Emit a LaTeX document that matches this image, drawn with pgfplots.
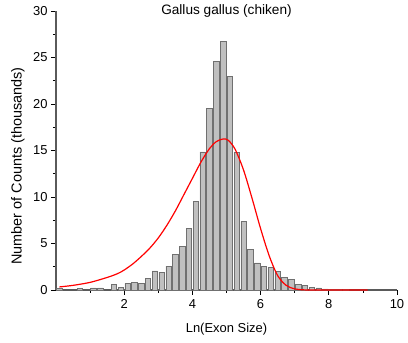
\documentclass[border=0pt]{standalone}
\usepackage{pgfplots}
\pgfplotsset{compat=1.18}
\usepackage{fontspec}
\setmainfont{Liberation Sans}
\definecolor{barfill}{RGB}{192,192,192}
\definecolor{baredge}{RGB}{112,112,112}
\definecolor{axisgray}{RGB}{90,90,90}
\begin{document}
\begin{tikzpicture}
\path[use as bounding box] (-56bp,-53bp) rectangle (352bp,290bp);
\begin{axis}[
  at={(0,0)}, anchor=south west,
  scale only axis, width=341bp, height=279bp,
  xmin=0, xmax=10, ymin=0, ymax=30,
  axis lines*=left,
  axis line style={axisgray, line width=1.2pt},
  tick align=outside,
  xtick={2,4,6,8,10}, minor xtick={1,3,5,7,9},
  ytick={0,5,10,15,20,25,30}, minor ytick={2.5,7.5,12.5,17.5,22.5,27.5},
  major tick length=5bp, minor tick length=3bp,
  every tick/.style={black, line width=0.8pt},
  /pgf/number format/assume math mode=true,
  tick label style={font=\fontsize{13}{15}\selectfont},
  x tick label style={yshift=-1bp},
  title={Gallus gallus (chiken)},
  title style={at={(0.5,1)}, anchor=base, yshift=-9bp, font=\fontsize{13.7}{15}\selectfont},
  xlabel={Ln(Exon Size)},
  xlabel style={at={(0.5,0)}, anchor=base, yshift=-42bp, font=\fontsize{13}{15}\selectfont},
  ylabel={Number of Counts (thousands)},
  ylabel style={at={(-0.1114,0.4444)}, anchor=center, font=\fontsize{14.5}{16}\selectfont},
  clip=false,
]
\addplot[ybar, bar width=0.16, fill=barfill, draw=baredge, line width=0.6pt] coordinates {
(0.1,0.18) (0.7,0.2) (1.1,0.22) (1.3,0.22) (1.7,0.6) (1.9,0.28)
(2.1,0.7) (2.3,0.82) (2.5,0.7) (2.7,1.25) (2.9,2.06) (3.1,1.92)
(3.3,2.58) (3.5,3.8) (3.7,4.66) (3.9,6.63) (4.1,9.53) (4.3,14.85)
(4.5,19.53) (4.7,24.6) (4.9,26.77) (5.1,22.94) (5.3,14.77) (5.5,7.35)
(5.7,4.37) (5.9,2.92) (6.1,2.5) (6.3,2.42) (6.5,1.97) (6.7,1.36)
(6.9,1.12) (7.1,0.61) (7.3,0.47) (7.5,0.32) (7.7,0.23) (7.9,0.12)
(8.1,0.08) (8.3,0.05) (8.5,0.03)
};
\addplot[red, line width=1.2pt, smooth, tension=0.5] coordinates {
(0.1,0.33) (0.5,0.50) (1.0,0.82) (1.5,1.35) (1.8,1.75) (2.0,2.15)
(2.25,2.8) (2.5,3.6) (2.75,4.5) (3.0,5.6) (3.25,6.95) (3.5,8.5)
(3.75,10.25) (4.0,12.0) (4.25,13.75) (4.5,15.2) (4.7,15.95) (4.9,16.24)
(5.05,16.1) (5.25,15.15) (5.5,12.9) (5.75,9.85) (6.0,6.6) (6.25,3.7)
(6.5,1.55) (6.75,0.5) (7.0,0.12) (7.25,0.02) (7.5,0) (8.5,0) (9.14,0)
};
\end{axis}
\end{tikzpicture}
\end{document}
